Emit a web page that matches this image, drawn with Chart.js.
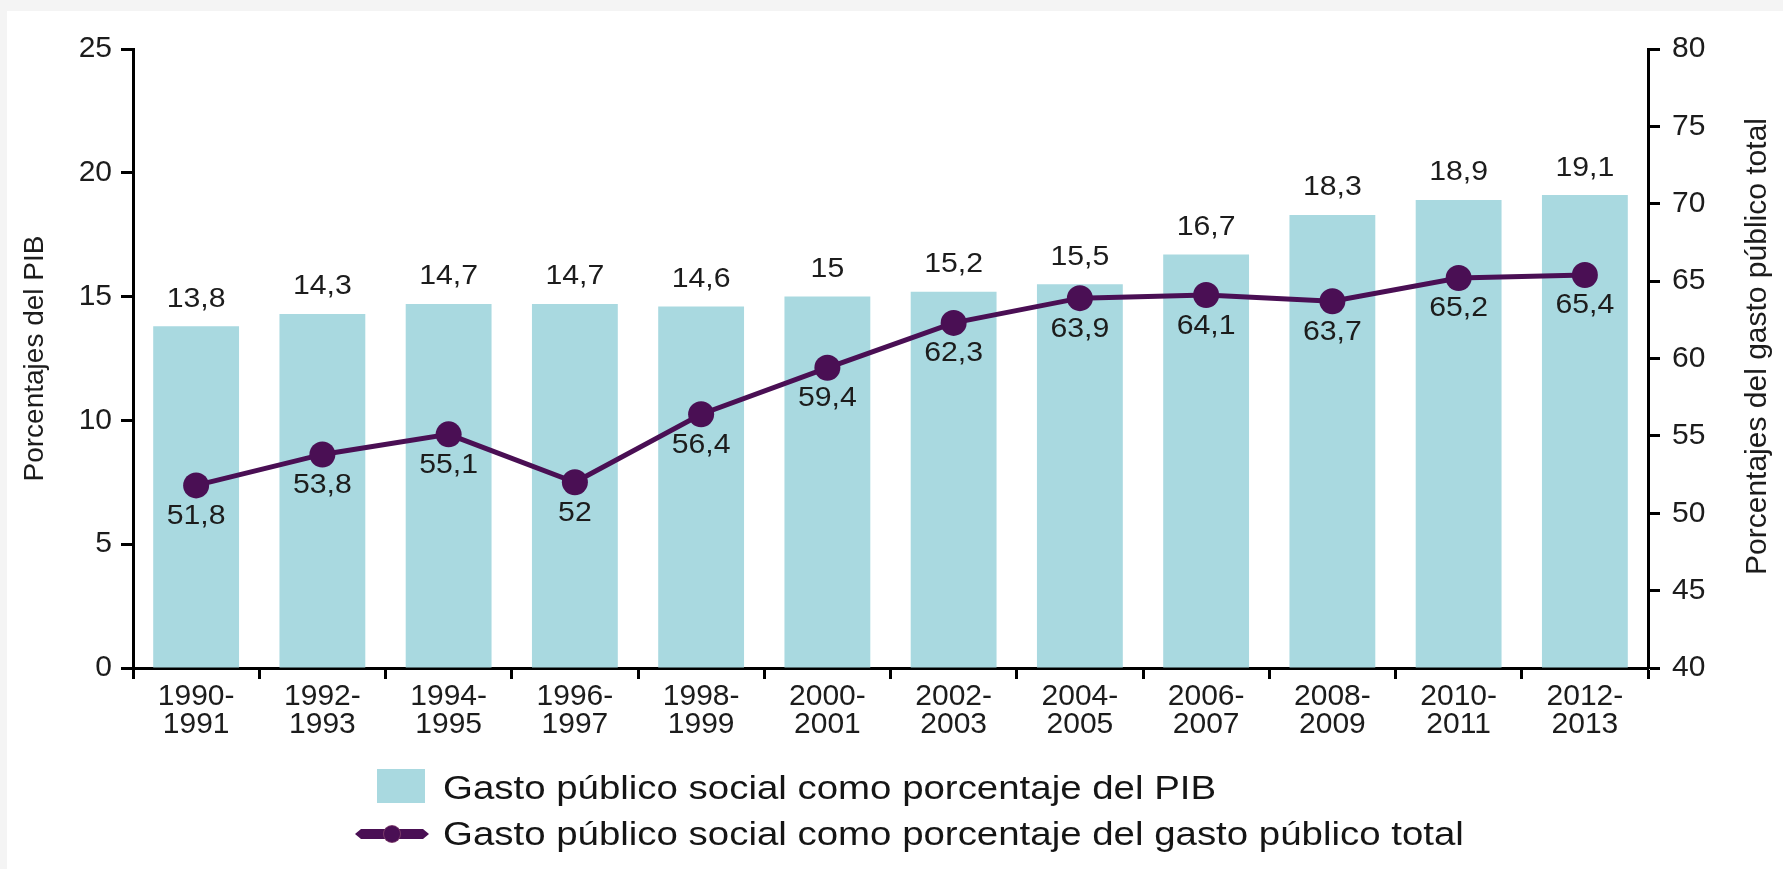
<!DOCTYPE html>
<html>
<head>
<meta charset="utf-8">
<script src="https://cdn.jsdelivr.net/npm/chart.js@4/dist/chart.umd.min.js"></script>
<style>
  html, body { margin: 0; padding: 0; background: #f4f4f4; width: 1783px; height: 869px; overflow: hidden; }
  #panel { position: absolute; left: 7px; top: 11px; width: 1776px; height: 858px; background: #ffffff; }
  #wrap { position: absolute; left: 0; top: 0; width: 1776px; height: 858px; }
  .leg { position: absolute; font-family: "Liberation Sans", Arial, sans-serif; font-size: 34px; color: #151515; white-space: nowrap; line-height: 1; }
  .leg span { display: inline-block; transform-origin: left center; transform: scaleX(1.13); }
  #box1 { position: absolute; left: 370px; top: 758px; width: 48px; height: 34px; background: #a9d9e0; }
  #lineicon { position: absolute; left: 348px; top: 818px; width: 74px; height: 10px; background: #4a0f54;
              clip-path: polygon(0 50%, 6px 0, calc(100% - 6px) 0, 100% 50%, calc(100% - 6px) 100%, 6px 100%); }
  #dot { position: absolute; left: 377px; top: 815px; width: 16px; height: 16px; border-radius: 50%; background: #4a0f54; box-shadow: 0 0 0 1px #7a3a6a; }
</style>
</head>
<body>
<div id="panel">
  <div id="wrap"><canvas id="c"></canvas></div>
  <div id="box1"></div>
  <div class="leg" style="left:436px; top:759px;"><span id="leg1"></span></div>
  <div id="lineicon"></div>
  <div id="dot"></div>
  <div class="leg" style="left:436px; top:805px;"><span id="leg2"></span></div>
</div>
<script>
// ---- data ----
const categories = [
  ["1990-", "1991"], ["1992-", "1993"], ["1994-", "1995"], ["1996-", "1997"],
  ["1998-", "1999"], ["2000-", "2001"], ["2002-", "2003"], ["2004-", "2005"],
  ["2006-", "2007"], ["2008-", "2009"], ["2010-", "2011"], ["2012-", "2013"]
];
const gastoPIB = [13.8, 14.3, 14.7, 14.7, 14.6, 15, 15.2, 15.5, 16.7, 18.3, 18.9, 19.1];
const gastoTotal = [51.8, 53.8, 55.1, 52, 56.4, 59.4, 62.3, 63.9, 64.1, 63.7, 65.2, 65.4];
const seriesNames = [
  "Gasto público social como porcentaje del PIB",
  "Gasto público social como porcentaje del gasto público total"
];
const axisTitles = ["Porcentajes del PIB", "Porcentajes del gasto público total"];
const leftTicks = { min: 0, max: 25, step: 5 };
const rightTicks = { min: 40, max: 80, step: 5 };

document.getElementById('leg1').textContent = seriesNames[0];
document.getElementById('leg2').textContent = seriesNames[1];

const FONT = "'Liberation Sans', Arial, sans-serif";
const TXT = '#1c1c1c';
const fmt = v => String(v).replace('.', ',');

function stretchedText(ctx, text, x, y, sx) {
  ctx.save();
  ctx.translate(x, y);
  ctx.scale(sx, 1);
  ctx.fillText(text, 0, 0);
  ctx.restore();
}

const labelPlugin = {
  id: 'valueLabels',
  afterDatasetsDraw(chart) {
    const ctx = chart.ctx;
    ctx.save();
    ctx.font = "27px " + FONT;
    ctx.fillStyle = TXT;
    ctx.textAlign = 'center';
    ctx.textBaseline = 'middle';
    chart.data.datasets.forEach((ds, i) => {
      const meta = chart.getDatasetMeta(i);
      meta.data.forEach((el, j) => {
        const v = ds.data[j];
        if (ds.type === 'bar') {
          stretchedText(ctx, fmt(v), el.x, el.y - 27, 1.12);
        } else {
          stretchedText(ctx, fmt(v), el.x, el.y + 31, 1.12);
        }
      });
    });
    ctx.restore();
  },
  afterDraw(chart) {
    // right axis title, reading bottom-to-top
    const ctx = chart.ctx;
    const sc = chart.scales.y1;
    ctx.save();
    ctx.font = "30px " + FONT;
    ctx.fillStyle = TXT;
    ctx.textAlign = 'center';
    ctx.textBaseline = 'middle';
    const cx = sc.right - 25;
    const cy = (chart.chartArea.top + chart.chartArea.bottom) / 2 - 12;
    ctx.translate(cx, cy);
    ctx.rotate(-Math.PI / 2);
    ctx.fillText(axisTitles[1], 0, 0);
    ctx.restore();
  }
};

const gridCommon = {
  drawOnChartArea: false,
  drawTicks: true,
  tickLength: 12,
  tickWidth: 3,
  tickColor: '#000'
};

new Chart(document.getElementById('c'), {
  data: {
    labels: categories,
    datasets: [
      {
        type: 'line',
        label: seriesNames[1],
        data: gastoTotal,
        yAxisID: 'y1',
        borderColor: '#4a0f54',
        backgroundColor: '#4a0f54',
        borderWidth: 5,
        pointRadius: 13,
        pointBorderWidth: 0,
        pointBackgroundColor: '#4a0f54',
        tension: 0,
        order: 0
      },
      {
        type: 'bar',
        label: seriesNames[0],
        data: gastoPIB,
        yAxisID: 'y',
        backgroundColor: '#a9d9e0',
        borderWidth: 0,
        categoryPercentage: 1.0,
        barPercentage: 0.68,
        order: 1
      }
    ]
  },
  options: {
    responsive: true,
    maintainAspectRatio: false,
    animation: false,
    events: [],
    layout: { padding: { top: 38, bottom: 120, left: 0, right: 0 } },
    plugins: {
      legend: { display: false },
      tooltip: { enabled: false }
    },
    scales: {
      x: {
        grid: Object.assign({ offset: true }, gridCommon, { tickLength: 11 }),
        border: { color: '#000', width: 3 },
        ticks: {
          font: { size: 30, family: FONT, lineHeight: 0.93 },
          color: TXT,
          padding: 4,
          maxRotation: 0,
          autoSkip: false
        },
        afterFit: s => { s.height = 81; }
      },
      y: {
        position: 'left',
        min: leftTicks.min,
        max: leftTicks.max,
        grid: gridCommon,
        border: { color: '#000', width: 3 },
        ticks: {
          stepSize: leftTicks.step,
          font: { size: 30, family: FONT },
          color: TXT,
          padding: 9
        },
        title: {
          display: true,
          text: axisTitles[0],
          font: { size: 28, family: FONT },
          color: TXT,
          padding: { top: 11, bottom: 0 }
        },
        afterFit: s => { s.width = 126; }
      },
      y1: {
        position: 'right',
        min: rightTicks.min,
        max: rightTicks.max,
        grid: gridCommon,
        border: { color: '#000', width: 3 },
        ticks: {
          stepSize: rightTicks.step,
          font: { size: 30, family: FONT },
          color: TXT,
          padding: 12
        },
        afterFit: s => { s.width = 135; }
      }
    }
  },
  plugins: [labelPlugin]
});
</script>
</body>
</html>
